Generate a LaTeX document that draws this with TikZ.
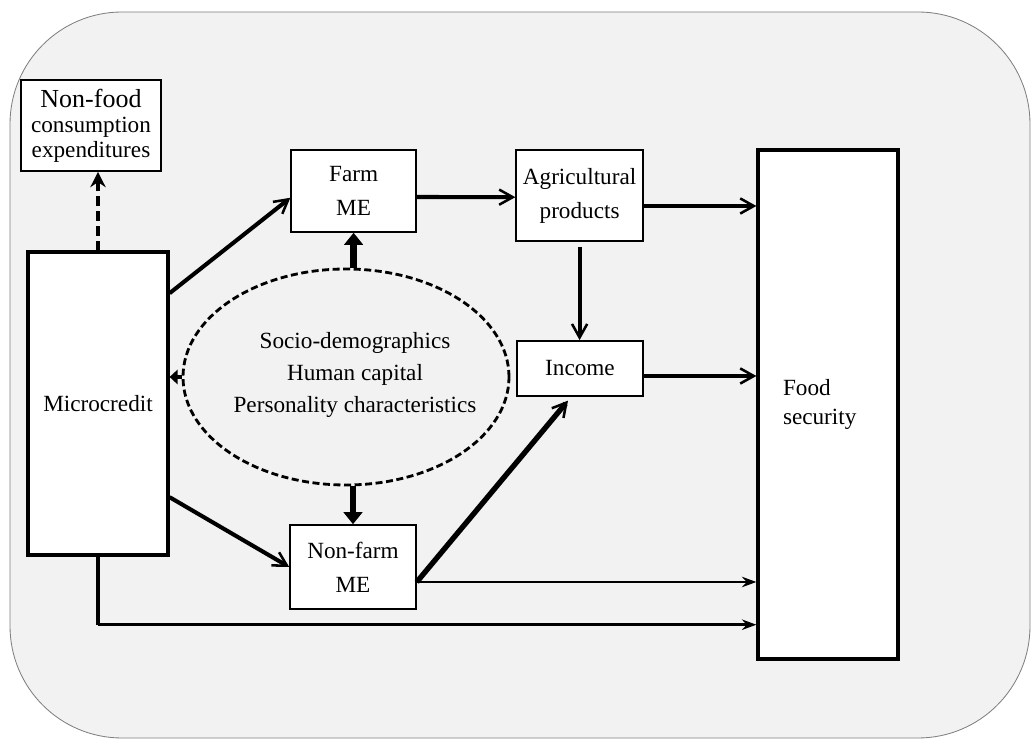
\documentclass[tikz,border=0pt]{standalone}
\usepackage{fontspec}
\setmainfont{Liberation Serif}
\usepackage{tikz}
\usetikzlibrary{arrows.meta,shapes.geometric}
\definecolor{bggray}{HTML}{F2F2F2}
\tikzset{
  box/.style={draw, fill=white, line width=1.1pt, align=center, inner sep=2pt},
  bigbox/.style={draw, fill=white, line width=2.3pt, align=center},
  flow/.style={line width=2.9pt, -{Straight Barb[length=3.4mm,width=3.8mm,line width=1.8pt]}},
  thinflow/.style={line width=1.8pt, -{Stealth[length=3.6mm,width=2.6mm]}},
  pushflow/.style={-{Triangle[length=3mm,width=4.6mm]}},
  dasharrow/.style={line width=2.9pt, dash pattern=on 7pt off 3.5pt, -{Stealth[length=3.8mm,width=3.8mm]}}
}

\begin{document}
\begin{tikzpicture}[x=1cm,y=1cm,font=\fontsize{16.5}{24}\selectfont]
\useasboundingbox (0,0) rectangle (25.8,18.5);
% frame
\draw[draw=gray, fill=bggray, line width=0.6pt, rounded corners=2.8cm] (0.25,0.05) rectangle (25.75,18.2);

\node[box, minimum width=3.5cm, minimum height=2.275cm, font=\fontsize{16.5}{17.8}\selectfont] (nonfood) at (2.275,15.36)
  {{\fontsize{18.5}{20}\selectfont Non-food}\\consumption\\expenditures};
\node[bigbox, minimum width=3.5cm, minimum height=7.575cm] (micro) at (2.45,8.41) {Microcredit};
\node[box, minimum width=3.125cm, minimum height=2.05cm] (farm) at (8.84,13.725) {Farm\\ME};
\node[box, minimum width=3.175cm, minimum height=2.275cm] (agri) at (14.49,13.61) {Agricultural\\products};
\node[box, minimum width=3.15cm, minimum height=1.375cm] (income) at (14.5,9.29) {Income};
\node[box, minimum width=3.15cm, minimum height=2.1cm] (nonfarm) at (8.825,4.325) {Non-farm\\ME};
\node[bigbox, minimum width=3.5cm, minimum height=12.725cm, text width=2.25cm, inner xsep=0.625cm,
  align=left, font=\fontsize{16.5}{21}\selectfont] (food) at (20.7,8.39) {Food\\security};
\node[ellipse, draw, line width=2pt, dash pattern=on 5pt off 2.5pt,
  minimum width=8.15cm, minimum height=5.4cm] (traits) at (8.65,9.075) {};
\node[align=center, font=\fontsize{16.5}{22.8}\selectfont] (traitstext) at (8.875,9.125)
  {Socio-demographics\\Human capital\\Personality characteristics};

% microcredit
\draw[dasharrow] (micro.north) -- (micro.north |- nonfood.south);
\draw[flow] ([yshift=2.76cm]micro.east) -- ([yshift=-0.17cm]farm.west);
\draw[flow] ([yshift=-2.34cm]micro.east) -- (nonfarm.west);
\coordinate (m1) at ([yshift=-1.7cm]micro.south);
\draw[line width=2.6pt] (micro.south) -- (m1);
\draw[thinflow] (m1) -- (m1 -| food.west);

% characteristics
\draw[pushflow, line width=5pt] (farm.south |- traits.north) -- (farm.south);
\draw[pushflow, line width=3.6pt] (nonfarm.north |- traits.south) -- (nonfarm.north);
\draw[pushflow, line width=3pt, -{Triangle[length=2mm,width=3.6mm]}] (traits.west) -- (traits.west -| micro.east);

% farm side
\draw[flow] ([yshift=-0.15cm]farm.east) -- ([yshift=-0.04cm]agri.west);
\coordinate (a1) at ([yshift=-0.26cm]agri.east);
\draw[flow] (a1) -- (a1 -| food.west);
\draw[flow] ([yshift=-0.12cm]agri.south) -- (agri.south |- income.north);
\coordinate (i1) at ([yshift=-0.19cm]income.east);
\draw[flow] (i1) -- (i1 -| food.west);

% non-farm side
\coordinate (n1) at ([yshift=-0.375cm]nonfarm.east);
\draw[flow, line width=3.8pt] (n1) -- ([xshift=-0.3cm,yshift=-0.1cm]income.south);
\draw[thinflow] (n1) -- (n1 -| food.west);
\end{tikzpicture}
\end{document}
